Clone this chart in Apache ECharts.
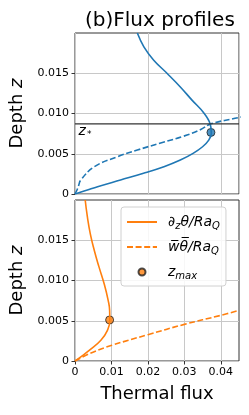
<!DOCTYPE html>
<html><head><meta charset="utf-8">
<script src="https://cdn.jsdelivr.net/npm/echarts@6/dist/echarts.min.js"></script>
<style>html,body{margin:0;padding:0;background:#fff}#c{width:249px;height:415px}</style>
</head><body><div id="c"></div>
<script>
// ---- data (thermal flux x, depth z) ----
const blueSolidX  = [0, 0.0034, 0.0062, 0.0125, 0.0188, 0.0244, 0.0289, 0.0324, 0.0350, 0.0367, 0.0374, 0.0371, 0.0353, 0.0321, 0.0289, 0.0253, 0.0216, 0.0189, 0.0171];
const blueSolidZ  = [0, 0.0005, 0.00091, 0.00174, 0.00257, 0.00339, 0.00422, 0.00505, 0.00587, 0.0067, 0.00753, 0.0087, 0.0101, 0.01166, 0.0133, 0.01497, 0.01662, 0.01828, 0.0200];
const blueDashX   = [0, 0.00055, 0.0009, 0.0016, 0.0053, 0.0116, 0.0171, 0.0235, 0.0298, 0.0345, 0.0372, 0.0450, 0.0470];
const blueDashZ   = [0, 0.0005, 0.00091, 0.00174, 0.00339, 0.00463, 0.00546, 0.00634, 0.00718, 0.00800, 0.0087, 0.0095, 0.0097];
const blueMarkX   = [0.0373];
const blueMarkZ   = [0.00765];
const zStar       = 0.00872;
const zStarLineX  = [0, 0.045];

const orangeSolidX = [0, 0.0016, 0.0039, 0.0071, 0.0089, 0.00955, 0.0095, 0.0091, 0.0080, 0.0066, 0.0053, 0.0042, 0.0034, 0.0028];
const orangeSolidZ = [0, 0.0005, 0.00133, 0.00257, 0.00381, 0.00505, 0.00629, 0.00753, 0.0096, 0.01166, 0.01373, 0.0158, 0.0179, 0.0200];
const orangeDashX  = [0, 0.0044, 0.0101, 0.0200, 0.0300, 0.0400, 0.0450];
const orangeDashZ  = [0, 0.0010, 0.00195, 0.00327, 0.00455, 0.00567, 0.00629];
const orangeMarkX  = [0.0095];
const orangeMarkZ  = [0.0051];

const yTicks = [0, 0.005, 0.010, 0.015];
const xTicks = [0, 0.01, 0.02, 0.03, 0.04];

const BLUE = '#1f77b4', ORANGE = '#ff7f0e';
const pair = (xs, zs) => xs.map((x, i) => [x, zs[i]]);
const font = 'DejaVu Sans';
const fmtY = v => v === 0 ? '0' : v.toFixed(3);
const fmtX = v => v === 0 ? '0' : v.toFixed(2);

const chart = echarts.init(document.getElementById('c'), null, {renderer: 'canvas'});
const gridCommon = {left: 74, width: 165, height: 161, show: true, borderColor: '#333', borderWidth: 1, backgroundColor: 'transparent'};
const splitLine = {show: true, lineStyle: {color: '#c8c8c8', width: 1}};
const yAxisCommon = (idx) => ({
  type: 'value', gridIndex: idx, min: 0, max: 0.02, interval: 0.005,
  name: '{n|Depth }{i|z}', nameLocation: 'middle', nameGap: 49, nameRotate: 90,
  nameTextStyle: {rich: {n: {fontFamily: font, fontSize: 18, color: '#000'}, i: {fontFamily: font, fontStyle: 'italic', fontSize: 18, color: '#000'}}},
  axisLine: {show: false},
  axisTick: {show: true, length: 3.5, inside: false, lineStyle: {color: '#333'}, customValues: yTicks},
  axisLabel: {fontFamily: font, fontSize: 11, color: '#000', margin: 6, formatter: fmtY, customValues: yTicks},
  splitLine: splitLine
});

const legendLabels = {
  dz: '{i|∂}{s|z}{i|θ/Ra}{s|Q}',
  wt: '{i|w̅θ̅/Ra}{s|Q}',
  zmax: '{i|z}{s|max}'
};
const zStarData = pair(zStarLineX, zStarLineX.map(() => zStar));
zStarData[0] = {value: zStarData[0], label: {show: true}};

chart.setOption({
  animation: false,
  title: {text: '(b)Flux profiles', left: 80, top: 6,
    textStyle: {fontFamily: font, fontSize: 20, fontWeight: 'normal', color: '#000'}},
  grid: [Object.assign({top: 33}, gridCommon), Object.assign({top: 200}, gridCommon)],
  xAxis: [
    {type: 'value', gridIndex: 0, min: 0, max: 0.045, interval: 0.02,
     axisLine: {show: false}, axisTick: {show: false}, axisLabel: {show: false}, splitLine: splitLine},
    {type: 'value', gridIndex: 1, min: 0, max: 0.045, interval: 0.01,
     name: 'Thermal flux', nameLocation: 'middle', nameGap: 24,
     nameTextStyle: {fontFamily: font, fontSize: 18, color: '#000', verticalAlign: 'top'},
     axisLine: {show: false},
     axisTick: {show: true, length: 3.5, lineStyle: {color: '#333'}, customValues: xTicks},
     axisLabel: {fontFamily: font, fontSize: 11, color: '#000', margin: 6, formatter: fmtX, customValues: xTicks},
     splitLine: splitLine}
  ],
  yAxis: [yAxisCommon(0), yAxisCommon(1)],
  legend: {
    orient: 'vertical', left: 121, top: 207, itemWidth: 30, itemHeight: 7, itemGap: 9,
    padding: [8, 6, 5, 5], backgroundColor: 'rgba(255,255,255,0.85)', borderColor: '#d0d0d0', borderWidth: 1, borderRadius: 3,
    data: [{name: 'dz', itemStyle: {opacity: 0}}, {name: 'wt', itemStyle: {opacity: 0}}, {name: 'zmax', icon: 'circle'}],
    formatter: n => legendLabels[n],
    textStyle: {fontFamily: font, fontSize: 14, color: '#000', padding: [0, 0, 0, 6],
      rich: {
        i: {fontFamily: font, fontStyle: 'italic', fontSize: 14, color: '#000'},
        s: {fontFamily: font, fontStyle: 'italic', fontSize: 10, color: '#000', padding: [8, 0, 0, 0]}
      }}
  },
  series: [
    {type: 'line', name: 'blueSolid', xAxisIndex: 0, yAxisIndex: 0, data: pair(blueSolidX, blueSolidZ),
     symbol: 'none', smooth: 0.4, clip: true, lineStyle: {color: BLUE, width: 1.6}},
    {type: 'line', name: 'blueDash', xAxisIndex: 0, yAxisIndex: 0, data: pair(blueDashX, blueDashZ),
     symbol: 'none', smooth: 0.4, clip: true, lineStyle: {color: BLUE, width: 1.6, type: [6, 2.6]}},
    {type: 'line', name: 'zStar', xAxisIndex: 0, yAxisIndex: 0, data: zStarData,
     symbol: 'circle', symbolSize: 0.01, showSymbol: true, clip: true, lineStyle: {color: '#333', width: 1.3},
     itemStyle: {color: 'rgba(0,0,0,0)'},
     label: {show: false, position: 'bottom', distance: 1, offset: [10, 0], formatter: '{z|z}{s|*}',
       rich: {z: {fontFamily: font, fontStyle: 'italic', fontSize: 14, color: '#000'},
              s: {fontFamily: font, fontSize: 9, color: '#000', padding: [5, 0, 0, 1]}}}},
    {type: 'scatter', name: 'blueMark', xAxisIndex: 0, yAxisIndex: 0, data: pair(blueMarkX, blueMarkZ),
     symbolSize: 8, itemStyle: {color: BLUE, borderColor: '#222', borderWidth: 1}},
    {type: 'line', name: 'dz', xAxisIndex: 1, yAxisIndex: 1, data: pair(orangeSolidX, orangeSolidZ),
     symbol: 'none', smooth: 0.5, clip: true, lineStyle: {color: ORANGE, width: 1.6}, itemStyle: {color: ORANGE}},
    {type: 'line', name: 'wt', xAxisIndex: 1, yAxisIndex: 1, data: pair(orangeDashX, orangeDashZ),
     symbol: 'none', smooth: 0.4, clip: true, lineStyle: {color: ORANGE, width: 1.6, type: [6, 2.6]}, itemStyle: {color: ORANGE}},
    {type: 'scatter', name: 'zmax', xAxisIndex: 1, yAxisIndex: 1, data: pair(orangeMarkX, orangeMarkZ),
     symbolSize: 8, itemStyle: {color: ORANGE, borderColor: '#222', borderWidth: 1}}
  ]
});
</script></body></html>
